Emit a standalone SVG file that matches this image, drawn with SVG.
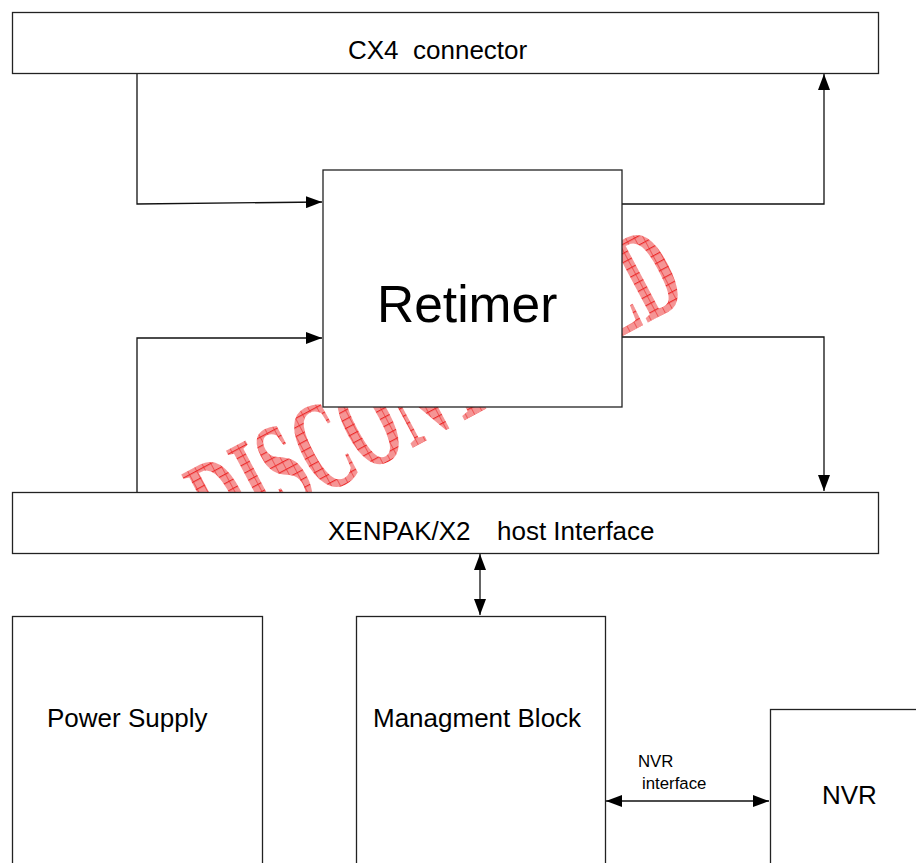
<svg xmlns="http://www.w3.org/2000/svg" width="916" height="863" viewBox="0 0 916 863">
  <style>
    .box { fill: #ffffff; stroke: #222222; stroke-width: 1.3; }
    .lbl { font-family: "Liberation Sans", Arial, sans-serif; font-size: 26px; fill: #000000; white-space: pre; }
    .small { font-family: "Liberation Sans", Arial, sans-serif; font-size: 16.8px; fill: #000000; }
    .wire { fill: none; stroke: #111111; stroke-width: 1.3; }
    .stamp { font-family: "Liberation Serif", "Times New Roman", serif; font-weight: bold; font-size: 68.5px; fill: url(#hatch); }
  </style>
  <defs>
    <pattern id="hatch" patternUnits="userSpaceOnUse" width="8" height="4.3">
      <rect width="8" height="4.3" fill="#f59595"/>
      <path d="M0 0.3 H8 M0.3 0 V4.3" stroke="#ec2a2a" stroke-width="0.6"/>
    </pattern>
    <marker id="arrow" viewBox="0 0 16 12" markerUnits="userSpaceOnUse" markerWidth="16" markerHeight="12" refX="16" refY="6" orient="auto-start-reverse">
      <path d="M0 0 L16 6 L0 12 z" fill="#000000"/>
    </marker>
  </defs>

  <!-- status stamp, lying underneath the blocks -->
  <text class="stamp" transform="translate(220 550) rotate(-28) scale(1 1.89)">DISCONTINUED</text>

  <g id="connectors">
    <path class="wire" d="M137 73 V204 L322 202" marker-end="url(#arrow)"/>
    <path class="wire" d="M137 492 V338 H322" marker-end="url(#arrow)"/>
    <path class="wire" d="M622 204 H824 V74" marker-end="url(#arrow)"/>
    <path class="wire" d="M622 337 H824 V491" marker-end="url(#arrow)"/>
    <path class="wire" d="M480 554 V615" marker-start="url(#arrow)" marker-end="url(#arrow)"/>
    <path class="wire" d="M606 801 H769" marker-start="url(#arrow)" marker-end="url(#arrow)"/>
  </g>

  <g id="cx4">
    <rect class="box" x="12.5" y="12.5" width="866" height="61"/>
    <text class="lbl" x="348" y="59" xml:space="preserve">CX4  connector</text>
  </g>

  <g id="retimer">
    <rect class="box" x="323" y="170" width="299" height="237"/>
    <text class="lbl" x="377" y="322" style="font-size:51.5px">Retimer</text>
  </g>

  <g id="host">
    <rect class="box" x="12.5" y="492.5" width="866" height="61"/>
    <text class="lbl" x="328" y="540">XENPAK/X2</text>
    <text class="lbl" x="497" y="540">host Interface</text>
  </g>

  <g id="power">
    <rect class="box" x="12.5" y="616.5" width="250" height="260"/>
    <text class="lbl" x="47" y="727">Power Supply</text>
  </g>

  <g id="mgmt">
    <rect class="box" x="356.5" y="616.5" width="249" height="260"/>
    <text class="lbl" x="373" y="727">Managment Block</text>
  </g>

  <g id="nvr">
    <rect class="box" x="770.5" y="709.5" width="160" height="170"/>
    <text class="lbl" x="822" y="804">NVR</text>
  </g>

  <g id="nvr-link-label">
    <text class="small" x="638" y="767">NVR</text>
    <text class="small" x="642" y="789">interface</text>
  </g>
</svg>
